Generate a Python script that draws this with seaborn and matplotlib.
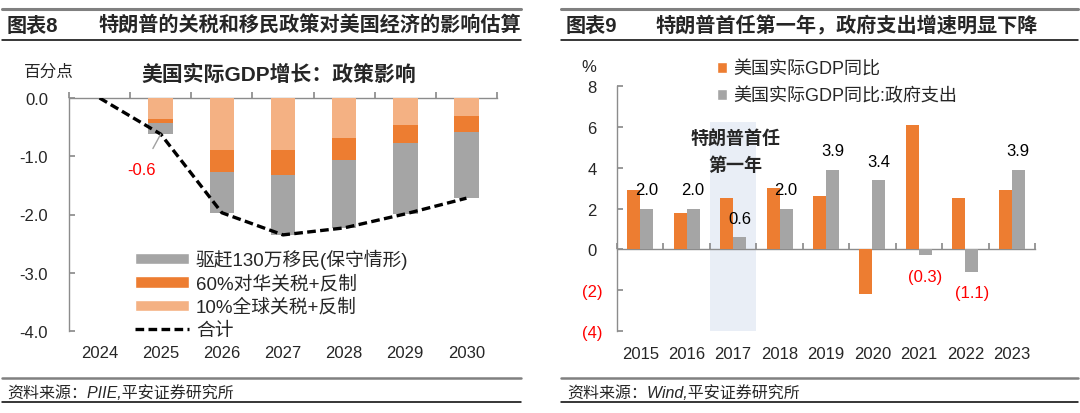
import numpy as np
import pandas as pd
import matplotlib
matplotlib.use('Agg')
import matplotlib.pyplot as plt
import seaborn as sns
from matplotlib.patches import Patch
from matplotlib.lines import Line2D
from matplotlib.ticker import FuncFormatter

# ---------------- data ----------------
years_l = ['2024', '2025', '2026', '2027', '2028', '2029', '2030']
tariff_global = [0.0, -0.36, -0.89, -0.90, -0.69, -0.47, -0.31]   # 10%全球关税+反制
tariff_china = [0.0, -0.07, -0.38, -0.42, -0.37, -0.31, -0.27]    # 60%对华关税+反制
deport = [0.0, -0.19, -0.70, -1.03, -1.17, -1.21, -1.14]          # 驱赶130万移民
total = [0.0, -0.62, -1.97, -2.35, -2.23, -1.99, -1.72]           # 合计
yticks_l = [0.0, -1.0, -2.0, -3.0, -4.0]

years_r = ['2015', '2016', '2017', '2018', '2019', '2020', '2021', '2022', '2023']
gdp_yoy = [2.9, 1.8, 2.5, 3.0, 2.6, -2.2, 6.1, 2.5, 2.9]
gov_yoy = [2.0, 2.0, 0.6, 2.0, 3.9, 3.4, -0.3, -1.1, 3.9]
yticks_r = [8, 6, 4, 2, 0, -2, -4]

series_l = ['驱赶130万移民(保守情形)', '60%对华关税+反制', '10%全球关税+反制', '合计']
series_r = ['美国实际GDP同比', '美国实际GDP同比:政府支出']

# ---------------- style ----------------
ORANGE = '#ED7D31'
GREY = '#A5A5A5'
LIGHT = '#F4B183'
AXC = '#8C8C8C'
RED = '#FF0000'

sns.set_theme(style='white')
plt.rcParams['font.family'] = ['Liberation Sans', 'Noto Sans CJK SC', 'DejaVu Sans']
plt.rcParams['axes.unicode_minus'] = False

W, H = 1080, 414
fig = plt.figure(figsize=(W / 100, H / 100), dpi=100)

def fx(px):
    return px / W

def fy(py):
    return 1 - py / H

# ---------------- left chart ----------------
axl = fig.add_axes([fx(69), fy(332), fx(497 - 69), (332 - 99) / H])
cum_full = [a + b + c for a, b, c in zip(tariff_global, tariff_china, deport)]
cum_two = [a + b for a, b in zip(tariff_global, tariff_china)]
for vals, col in [(cum_full, GREY), (cum_two, ORANGE), (tariff_global, LIGHT)]:
    sns.barplot(x=years_l, y=vals, color=col, width=0.4, saturation=1,
                errorbar=None, linewidth=0, ax=axl)
sns.lineplot(x=np.arange(len(years_l)), y=total, color='black', lw=2.4,
             linestyle=(0, (2.6, 1.3)), ax=axl)
axl.set_xlim(-0.5, len(years_l) - 0.5)
axl.set_ylim(-4, 0)
axl.set_xlabel('')
axl.set_ylabel('')
axl.set_yticks(yticks_l)
axl.yaxis.set_major_formatter(FuncFormatter(lambda v, p: f'{v:.1f}'))
axl.tick_params(axis='y', direction='in', length=4, color=AXC, pad=15,
                labelsize=12, left=True)
axl.tick_params(axis='x', length=0, pad=10, labelsize=12, bottom=False)
for s in ['top', 'right', 'bottom']:
    axl.spines[s].set_visible(False)
axl.spines['left'].set_color(AXC)
axl.spines['left'].set_linewidth(1.0)
secl = axl.secondary_xaxis(1.0)
secl.set_xticks(np.arange(-0.5, len(years_l), 1.0))
secl.set_xticklabels([])
secl.tick_params(direction='out', length=4, color=AXC)
for s in secl.spines.values():
    s.set_color(AXC)
    s.set_linewidth(1.0)

axl.annotate('-0.6', xy=(1.0, total[1]), xytext=(0.69, -1.22),
             ha='center', va='center', fontsize=12, color=RED,
             arrowprops=dict(arrowstyle='-', color='#A0A0A0', lw=1,
                             shrinkA=8, shrinkB=0))

hl = [Patch(facecolor=GREY), Patch(facecolor=ORANGE), Patch(facecolor=LIGHT),
      Line2D([0], [0], color='black', lw=2.4, linestyle=(0, (2.6, 1.3)))]
axl.legend(hl, series_l, loc='upper left', bbox_to_anchor=(fx(135), fy(250)),
           bbox_transform=fig.transFigure, frameon=False, fontsize=13.5,
           handlelength=2.9, handleheight=0.55, handletextpad=0.35,
           labelspacing=0.3, borderpad=0, borderaxespad=0)

fig.text(fx(279), fy(74.5), '美国实际GDP增长：政策影响', ha='center', va='center',
         fontsize=15, fontweight='bold')
fig.text(fx(24), fy(72), '百分点', ha='left', va='center', fontsize=12)

# ---------------- right chart ----------------
axr = fig.add_axes([fx(617), fy(332), fx(1035 - 617), (332 - 87) / H])
df_r = pd.DataFrame({
    'year': years_r * 2,
    'value': gdp_yoy + gov_yoy,
    'series': [series_r[0]] * len(years_r) + [series_r[1]] * len(years_r),
})
axr.axvspan(1.5, 2.5, ymin=0, ymax=(6.25 + 4) / 12, color='#E9EEF6', lw=0, zorder=0)
sns.barplot(data=df_r, x='year', y='value', hue='series', palette=[ORANGE, GREY],
            width=0.56, saturation=1, errorbar=None, legend=False, linewidth=0,
            ax=axr, zorder=2)
axr.set_xlim(-0.5, len(years_r) - 0.5)
axr.set_ylim(-4, 8)
axr.set_xlabel('')
axr.set_ylabel('')
axr.set_yticks(yticks_r)
axr.yaxis.set_major_formatter(
    FuncFormatter(lambda v, p: f'({abs(v):.0f})' if v < 0 else f'{v:.0f}'))
axr.tick_params(axis='y', direction='in', length=4, color=AXC, pad=18,
                labelsize=12, left=True)
for lab in axr.get_yticklabels():
    lab.set_horizontalalignment('center')
for lab, v in zip(axr.get_yticklabels(), yticks_r):
    if v < 0:
        lab.set_color(RED)
axr.tick_params(axis='x', length=0, pad=11, labelsize=12, bottom=False)
for s in ['top', 'right', 'bottom']:
    axr.spines[s].set_visible(False)
axr.spines['left'].set_color(AXC)
axr.spines['left'].set_linewidth(1.0)
secr = axr.secondary_xaxis(0, transform=axr.transData)
secr.set_xticks(np.arange(-0.5, len(years_r), 1.0))
secr.set_xticklabels([])
secr.tick_params(direction='in', length=4, color=AXC)
for s in secr.spines.values():
    s.set_color(AXC)
    s.set_linewidth(1.0)

grey_bars = axr.containers[1]
for patch, v in zip(grey_bars.patches, gov_yoy):
    cx = patch.get_x() + patch.get_width() / 2
    if v >= 0:
        axr.annotate(f'{v:.1f}', xy=(cx, v), xytext=(0, 13.5),
                     textcoords='offset points', ha='center', va='center',
                     fontsize=12, color='black')
    else:
        axr.annotate(f'({abs(v):.1f})', xy=(cx, v), xytext=(0, -14.8),
                     textcoords='offset points', ha='center', va='center',
                     fontsize=12, color=RED)

axr.text(2.05, 4.8, '特朗普首任\n第一年', ha='center', va='center', fontsize=13,
         fontweight='bold', linespacing=1.75, zorder=3)

hr = [Patch(facecolor=ORANGE), Patch(facecolor=GREY)]
axr.legend(hr, series_r, loc='upper left', bbox_to_anchor=(fx(717), fy(62)),
           bbox_transform=fig.transFigure, frameon=False, fontsize=13,
           handlelength=0.55, handleheight=0.55, handletextpad=0.35,
           labelspacing=0.5, borderpad=0, borderaxespad=0)
fig.text(fx(589), fy(67), '%', ha='center', va='center', fontsize=12)

# ---------------- headers & footers ----------------
def hline(x0, x1, y, color, lw):
    fig.add_artist(Line2D([fx(x0), fx(x1)], [fy(y), fy(y)], color=color, lw=lw,
                          transform=fig.transFigure))

for (x0, x1) in [(2, 521), (561, 1078)]:
    hline(x0, x1, 10, '#808080', 2.2)
    hline(x0, x1, 41, 'black', 1.1)
    hline(x0, x1, 379, '#808080', 1.8)
    hline(x0, x1, 403, 'black', 1.1)

fig.text(fx(7), fy(26), '图表8', ha='left', va='center', fontsize=14.5, fontweight='bold')
fig.text(fx(99), fy(26), '特朗普的关税和移民政策对美国经济的影响估算', ha='left',
         va='center', fontsize=14.5, fontweight='bold')
fig.text(fx(566), fy(26), '图表9', ha='left', va='center', fontsize=14.5, fontweight='bold')
fig.text(fx(656), fy(26), '特朗普首任第一年，政府支出增速明显下降', ha='left',
         va='center', fontsize=14.5, fontweight='bold')
fig.text(fx(7), fy(393), '资料来源：PIIE,平安证券研究所', ha='left', va='center',
         fontsize=11.5, style='italic')
fig.text(fx(567), fy(393), '资料来源：Wind,平安证券研究所', ha='left', va='center',
         fontsize=11.5, style='italic')

fig.savefig('out.png', dpi=100)
